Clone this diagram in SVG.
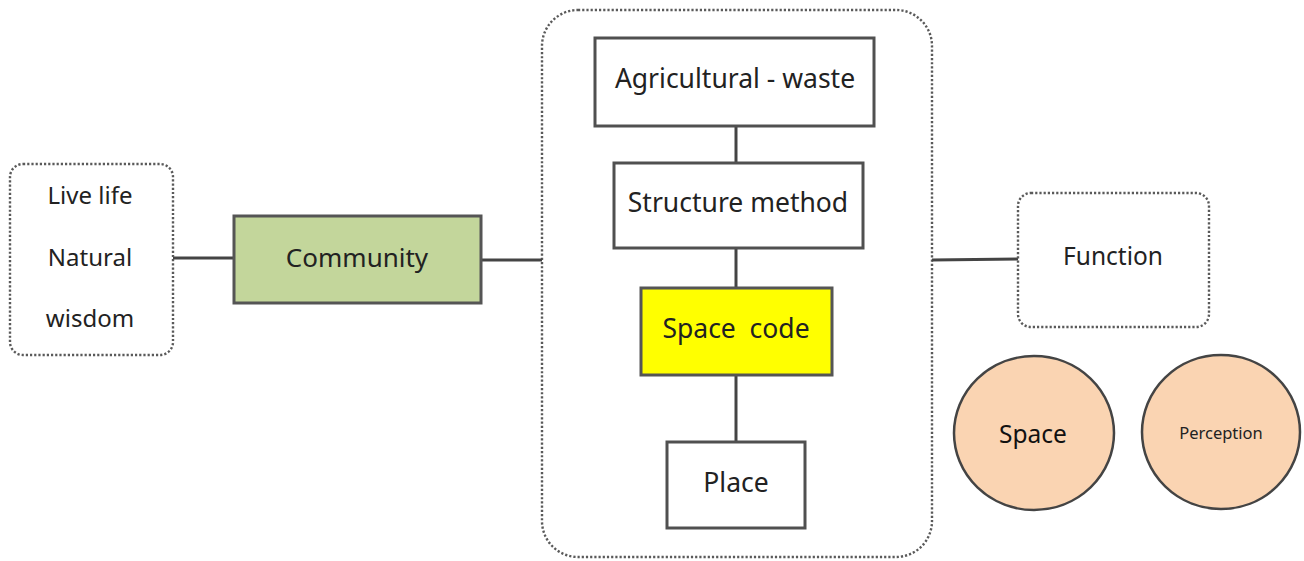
<svg xmlns="http://www.w3.org/2000/svg" width="1304" height="561" viewBox="0 0 1304 561">
  <style>
    .lbl { font-family: "Noto Sans", "Open Sans", "DejaVu Sans", sans-serif; fill: #222; text-anchor: middle; dominant-baseline: central; }
    .dot { fill: #fff; stroke: #5a5a5a; stroke-width: 2.4; stroke-dasharray: 2.2 2; }
    .box { fill: #fff; stroke: #505050; stroke-width: 3; }
    .conn { stroke: #444; stroke-width: 3; fill: none; }
    .peach { fill: #FAD4B2; stroke: #444; stroke-width: 2.5; }
  </style>
  <rect width="1304" height="561" fill="#fff"/>

  <!-- outer frame around the vertical chain -->
  <g id="frame">
    <rect class="dot" x="542" y="10" width="390" height="547" rx="36"/>
  </g>

  <g id="connectors">
    <line class="conn" x1="173" y1="258" x2="234" y2="258"/>
    <line class="conn" x1="481" y1="260" x2="542" y2="260"/>
    <line class="conn" x1="932" y1="260" x2="1018" y2="259"/>
    <line class="conn" x1="736" y1="126" x2="736" y2="163"/>
    <line class="conn" x1="736" y1="248" x2="736" y2="288"/>
    <line class="conn" x1="736" y1="375" x2="736" y2="442"/>
  </g>

  <g id="wisdom">
    <rect class="dot" x="10" y="164" width="163" height="191" rx="13"/>
    <text class="lbl" x="90" y="194" font-size="24">Live life</text>
    <text class="lbl" x="90" y="256" font-size="24">Natural</text>
    <text class="lbl" x="90" y="317" font-size="24">wisdom</text>
  </g>

  <g id="community">
    <rect x="234" y="216" width="247" height="87" fill="#C3D69B" stroke="#555" stroke-width="3"/>
    <text class="lbl" x="357" y="257" font-size="26">Community</text>
  </g>

  <g id="agri-waste">
    <rect class="box" x="595" y="38" width="279" height="88"/>
    <text class="lbl" x="735" y="78" font-size="26.5">Agricultural - waste</text>
  </g>

  <g id="structure">
    <rect class="box" x="614" y="163" width="249" height="85"/>
    <text class="lbl" x="738" y="202" font-size="26.5">Structure method</text>
  </g>

  <g id="space-code">
    <rect x="641" y="288" width="191" height="87" fill="#FFFF00" stroke="#555" stroke-width="3"/>
    <text class="lbl" x="736" y="328" font-size="26.5" xml:space="preserve">Space  code</text>
  </g>

  <g id="place">
    <rect class="box" x="667" y="442" width="138" height="86"/>
    <text class="lbl" x="736" y="482" font-size="26.5">Place</text>
  </g>

  <g id="function">
    <rect class="dot" x="1018" y="193" width="191" height="134" rx="13"/>
    <text class="lbl" x="1113" y="255" font-size="24.5">Function</text>
  </g>

  <g id="space">
    <ellipse class="peach" cx="1034" cy="433" rx="80" ry="77"/>
    <text class="lbl" x="1033" y="433" font-size="24.5" style="fill:#111">Space</text>
  </g>

  <g id="perception">
    <ellipse class="peach" cx="1221" cy="432" rx="79" ry="77"/>
    <text class="lbl" x="1221" y="432" font-size="16.5">Perception</text>
  </g>
</svg>
